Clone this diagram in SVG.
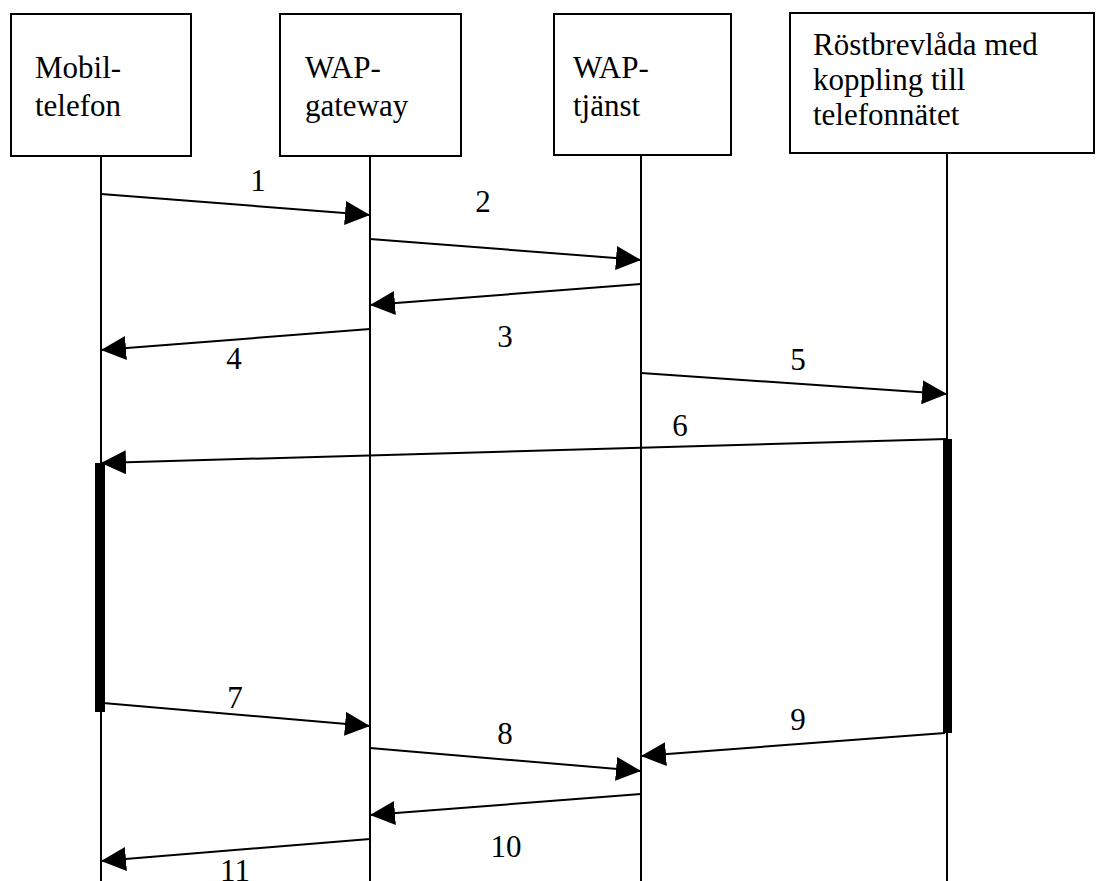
<svg xmlns="http://www.w3.org/2000/svg" width="1097" height="881" viewBox="0 0 1097 881">
  <style>
    .box { fill: #fff; stroke: #000; stroke-width: 2; }
    .life { stroke: #000; stroke-width: 2; fill: none; }
    .msg { stroke: #000; stroke-width: 2; fill: none; marker-end: url(#head); }
    .act { fill: #000; }
    text { font-family: "Liberation Serif", "Times New Roman", serif; font-size: 31px; fill: #000; }
    .num { text-anchor: middle; }
  </style>
  <defs>
    <marker id="head" markerUnits="userSpaceOnUse" markerWidth="26" markerHeight="24" refX="25" refY="12" orient="auto">
      <path d="M0,0 L25,12 L0,24 Z" fill="#000"/>
    </marker>
  </defs>
  <rect width="1097" height="881" fill="#fff"/>

  <!-- lifelines -->
  <g id="lifelines">
    <line class="life" x1="101" y1="156" x2="101" y2="881"/>
    <line class="life" x1="370" y1="156" x2="370" y2="881"/>
    <line class="life" x1="641" y1="155" x2="641" y2="881"/>
    <line class="life" x1="947" y1="153" x2="947" y2="881"/>
  </g>

  <!-- participants -->
  <g id="mobiltelefon">
    <rect class="box" x="11" y="14" width="180" height="142"/>
    <text x="35" y="78">Mobil-</text>
    <text x="35" y="116">telefon</text>
  </g>
  <g id="wap-gateway">
    <rect class="box" x="280" y="14" width="181" height="142"/>
    <text x="305" y="78">WAP-</text>
    <text x="305" y="116">gateway</text>
  </g>
  <g id="wap-tjanst">
    <rect class="box" x="554" y="14" width="177" height="141"/>
    <text x="573" y="78">WAP-</text>
    <text x="573" y="116">tjänst</text>
  </g>
  <g id="rostbrevlada">
    <rect class="box" x="790" y="13" width="304" height="140"/>
    <text x="813" y="55">Röstbrevlåda med</text>
    <text x="813" y="90">koppling till</text>
    <text x="813" y="125">telefonnätet</text>
  </g>

  <!-- activation bars -->
  <g id="activations">
    <rect class="act" x="95" y="463" width="10" height="249"/>
    <rect class="act" x="943" y="439" width="9" height="294"/>
  </g>

  <!-- messages -->
  <g id="connectors">
    <line class="msg" x1="101" y1="194" x2="370" y2="215"/>
    <line class="msg" x1="370" y1="239" x2="641" y2="260"/>
    <line class="msg" x1="641" y1="284" x2="370" y2="305"/>
    <line class="msg" x1="370" y1="329" x2="101" y2="350"/>
    <line class="msg" x1="641" y1="373" x2="947" y2="394"/>
    <line class="msg" x1="947" y1="439" x2="101" y2="463"/>
    <line class="msg" x1="103" y1="703" x2="370" y2="726"/>
    <line class="msg" x1="370" y1="748" x2="641" y2="771"/>
    <line class="msg" x1="945" y1="733" x2="641" y2="756"/>
    <line class="msg" x1="641" y1="794" x2="370" y2="815"/>
    <line class="msg" x1="370" y1="839" x2="101" y2="861"/>
  </g>

  <!-- message numbers -->
  <g id="labels">
    <text class="num" x="258" y="191">1</text>
    <text class="num" x="483" y="212">2</text>
    <text class="num" x="505" y="347">3</text>
    <text class="num" x="234" y="369">4</text>
    <text class="num" x="798" y="370">5</text>
    <text class="num" x="680" y="436">6</text>
    <text class="num" x="235" y="708">7</text>
    <text class="num" x="505" y="744">8</text>
    <text class="num" x="798" y="730">9</text>
    <text class="num" x="506" y="857">10</text>
    <text class="num" x="235" y="881">11</text>
  </g>
</svg>
